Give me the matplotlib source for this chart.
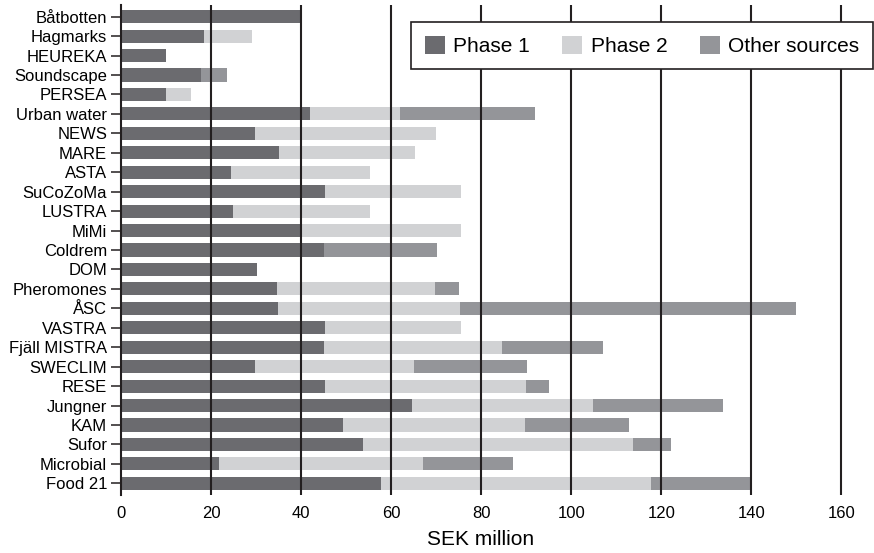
import matplotlib
matplotlib.use("Agg")
import matplotlib.pyplot as plt
import numpy as np

plt.rcParams['font.family'] = ['Liberation Sans', 'DejaVu Sans']

# projects, top to bottom
projects = ["Båtbotten", "Hagmarks", "HEUREKA", "Soundscape", "PERSEA",
            "Urban water", "NEWS", "MARE", "ASTA", "SuCoZoMa", "LUSTRA",
            "MiMi", "Coldrem", "DOM", "Pheromones", "ÅSC", "VASTRA",
            "Fjäll MISTRA", "SWECLIM", "RESE", "Jungner", "KAM", "Sufor",
            "Microbial", "Food 21"]

# SEK million
phase1 = [40, 18.5, 10, 17.7, 10, 42, 29.7, 35, 24.5, 45.2, 24.8,
          40, 45, 30.2, 34.6, 34.8, 45.2, 45, 29.7, 45.2, 64.7, 49.4, 53.7,
          21.7, 57.7]
phase2 = [0, 10.7, 0, 0, 5.5, 20, 40.3, 30.2, 30.7, 30.2, 30.4,
          35.4, 0, 0, 35.2, 40.4, 30.2, 39.7, 35.3, 44.8, 40.2, 40.4, 60,
          45.3, 60]
other = [0, 0, 0, 5.8, 0, 30, 0, 0, 0, 0, 0,
         0, 25.1, 0, 5.2, 74.7, 0, 22.4, 25.2, 5, 28.8, 23.1, 8.5,
         20.1, 22.2]

c1 = "#6b6b6f"
c2 = "#d1d2d4"
c3 = "#949599"
line_col = "#231f20"

fig = plt.figure(figsize=(8.74, 5.53), dpi=100)
ax = fig.add_axes([121 / 874, 1 - 495 / 553, (873 - 121) / 874, 490 / 553])

y = np.arange(len(projects))
p1 = np.array(phase1)
p2 = np.array(phase2)
p3 = np.array(other)
h = 0.67
ax.barh(y, p1, height=h, color=c1, label="Phase 1", zorder=1)
ax.barh(y, p2, left=p1, height=h, color=c2, label="Phase 2", zorder=1)
ax.barh(y, p3, left=p1 + p2, height=h, color=c3, label="Other sources", zorder=1)

# vertical lines drawn over the bars
for xv in range(20, 180, 20):
    ax.axvline(xv, color=line_col, lw=1.5, zorder=3)

ax.set_xlim(0, 167)
ax.set_ylim(len(projects) - 0.4, -0.6)
ax.set_yticks(y)
ax.set_yticklabels(projects, fontsize=12)
ax.set_xticks(range(0, 180, 20))
ax.tick_params(axis='x', length=0, pad=8, labelsize=12)
ax.tick_params(axis='y', length=7, width=1.1, color=line_col, pad=3)

for s in ['top', 'right', 'bottom']:
    ax.spines[s].set_visible(False)
ax.spines['left'].set_color(line_col)
ax.spines['left'].set_linewidth(1.5)
ax.spines['left'].set_zorder(4)

ax.set_xlabel("SEK million", fontsize=15)
ax.xaxis.set_label_coords((481 - 121) / (873 - 121), -0.072)

leg = ax.legend(loc='upper right', bbox_to_anchor=(1.0, 0.965), ncol=3,
                fontsize=15, frameon=True, fancybox=False, framealpha=1,
                edgecolor=line_col, borderaxespad=0, handlelength=0.95,
                handleheight=0.95, handletextpad=0.42, columnspacing=1.55,
                borderpad=0.65)
leg.get_frame().set_linewidth(1.2)
leg.set_zorder(5)

fig.savefig("out.png", dpi=100)
